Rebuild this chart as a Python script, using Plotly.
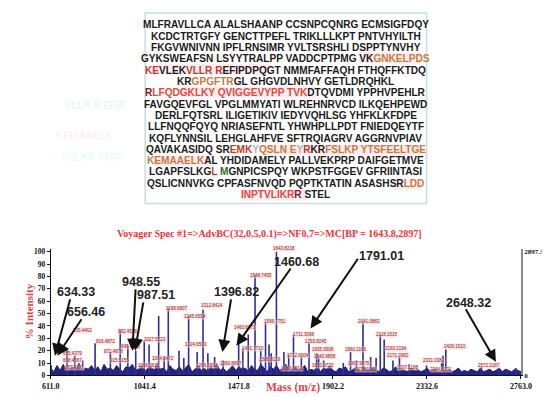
import plotly.graph_objects as go

W, H = 550, 397

# ---------------- data ----------------
seq_lines = [
    [("MLFRAVLLCA ALALSHAANP CCSNPCQNRG ECMSIGFDQY", "k")],
    [("KCDCTRTGFY GENCTTPEFL TRIKLLLKPT PNTVHYILTH", "k")],
    [("FKGVWNIVNN IPFLRNSIMR YVLTSRSHLI DSPPTYNVHY", "k")],
    [("GYKSWEAFSN LSYYTRALPP VADDCPTPMG VK", "k"), ("GNKELPDS", "o")],
    [("KE", "r"), ("VLEK", "k"), ("VLLR", "r"), (" ", "k"), ("R", "r"),
     ("EFIPDPQGT NMMFAFFAQH FTHQFFKTDQ", "k")],
    [("KR", "k"), ("GPGFTR", "o"), ("GL GHGVDLNHVY GETLDRQHKL", "k")],
    [("R", "d"), ("LFQDGKLKY QVIGGEVYPP TVK", "p"), ("DTQVDMI YPPHVPEHLR", "k")],
    [("FAVGQEVFGL VPGLMMYATI WLREHNRVCD ILKQEHPEWD", "k")],
    [("DERLFQTSRL ILIGETIKIV IEDYVQHLSG YHFKLKFDPE", "k")],
    [("LLFNQQFQYQ NRIASEFNTL YHWHPLLPDT FNIEDQEYTF", "k")],
    [("KQFLYNNSIL LEHGLAHFVE SFTRQIAGRV AGGRNVPIAV", "k")],
    [("QAVAKASIDQ SR", "k"), ("EMK", "r"), ("Y", "g"), ("QSLN", "o"), (" ", "k"),
     ("E", "o"), ("Y", "g"), ("R", "r"), ("KR", "k"), ("FSLKP YTSFEELTGE", "o")],
    [("KEMAAELK", "o"), ("AL YHDIDAMELY PALLVEKPRP DAIFGETMVE", "k")],
    [("LGAPFSLKG", "k"), ("L", "r"), (" ", "k"), ("M", "n"),
     ("GNPICSPQY WKPSTFGGEV GFRIINTASI", "k")],
    [("QSLICNNVKG CPFASFNVQD PQPTKTATIN ASASHSR", "k"), ("LDD", "o")],
    [("INPTVLIKR", "p"), ("R", "d"), (" STEL", "k")],
]
seq_colors = {"k": "#1b1b1b", "r": "#c43a2a", "o": "#c67a3c", "g": "#a9b8c0",
              "d": "#7a1e1e", "p": "#dc4a3e", "n": "#2f6a2f"}

spec_title = "Voyager Spec #1=>AdvBC(32,0.5,0.1)=>NF0.7=>MC[BP = 1643.8,2897]"

peak_mz = [613, 686, 721, 757, 814, 884, 929, 964, 1000, 1039, 1061, 1105, 1130, 1149,
           1198, 1220, 1242, 1281, 1308, 1330, 1361, 1400, 1471, 1490, 1515, 1546, 1572,
           1594, 1610, 1620, 1643.8, 1678, 1700, 1722, 1758, 1793, 1828, 1837, 1860,
           1950, 1983, 2010, 2040, 2075, 2100, 2119, 2137, 2177, 2207, 2250, 2331,
           2400, 2406, 2419, 2582, 2660, 2700, 2740]
peak_int = [8, 21, 16, 12, 26, 19, 37, 24, 20, 28, 25, 48, 15, 55,
            20, 14, 48, 19, 53, 18, 15, 12, 29, 22, 33, 81, 20,
            43, 25, 18, 100, 19, 17, 33, 15, 27, 18, 15, 12,
            10, 19, 12, 43, 15, 14, 33, 29, 12, 15, 9, 8,
            10, 16, 21, 7, 6, 5, 6]

noise_start, noise_step = 611.0, 14.35
noise_int = [6, 3, 8, 4, 9, 3, 5, 7, 4, 10, 3, 6, 5, 8, 4, 7, 3, 9, 5, 6,
             4, 8, 5, 3, 7, 6, 9, 4, 5, 8, 3, 6, 7, 4, 10, 5, 6, 3, 8, 5, 4,
             7, 4, 6, 9, 3, 5, 8, 4, 6, 3, 7, 5, 9, 4, 6, 3, 5, 8, 4, 7, 5,
             6, 3, 8, 5, 4, 9, 6, 3, 7, 5, 8, 4, 6, 9, 3, 5, 7, 4, 6, 8, 3,
             5, 4, 7, 3, 6, 5, 8, 4, 3, 6, 5, 7, 3, 4, 6, 5, 3, 7, 4, 5, 6,
             4, 3, 6, 5, 3, 4, 7, 3, 5, 4, 3, 6, 4, 5, 3, 4, 6, 3, 5, 4, 3,
             4, 3, 5, 3, 4, 6, 3, 4, 3, 5, 4, 3, 6, 3, 4, 5, 3, 4, 6, 3, 5, 4, 3, 5, 4, 3]

peak_label_text = ["1643.8218", "1548.7455", "1596.7751", "1460.6873", "1198.6807",
                   "1245.6554", "1312.8424", "1027.5523", "932.4538", "816.4872",
                   "726.4462", "872.4878", "1711.3098", "1793.8245", "1835.9908",
                   "1840.9858", "1960.1166", "2041.0883", "2118.1515", "2160.2194",
                   "2171.0982", "2426.1510", "2572.2187", "655.4379", "668.4567",
                   "687.4377", "945.4628", "915.5155", "1066.5612", "1094.5472",
                   "1324.6593", "1296.6904", "1390.8897", "1491.7710", "1588.8119",
                   "1689.9012", "1712.6604", "1850.9723", "1967.9875", "2035.1002",
                   "2207.1188", "2331.0382", "2344.8271"]
peak_label_px = [(277, 243), (253, 270), (268, 317), (237, 323), (165, 304),
                 (185, 312), (202, 301), (143, 335), (115, 327), (92, 337),
                 (68, 326), (100, 348), (297, 330), (310, 337), (318, 346),
                 (320, 353), (351, 346), (365, 317), (383, 330), (393, 345),
                 (395, 352), (455, 343), (490, 362), (58, 350), (58, 357),
                 (60, 364), (118, 343), (106, 357), (137, 362), (152, 355),
                 (186, 340), (197, 362), (222, 360), (245, 345), (262, 356),
                 (285, 365), (292, 352), (318, 362), (355, 360), (362, 366),
                 (405, 364), (433, 357), (440, 366)]

callout_text = ["634.33", "656.46", "948.55", "987.51", "1396.82", "1460.68", "1791.01", "2648.32"]
callout_text_px = [(61, 287), (72, 307), (129, 277), (144, 290), (228, 287), (290, 257), (378, 250), (469, 298)]
callout_tail_px = [(55, 294), (67, 314), (123, 284), (131, 297), (222, 294), (283, 263), (353, 253), (466, 304)]
callout_head_mz = [630, 641, 985, 997, 1396.82, 1460.68, 1800, 2648.32]
callout_head_int = [16, 16, 20, 20, 19, 24, 38, 11]

xtick_vals = [611.0, 1041.4, 1471.8, 1902.2, 2332.6, 2763.0]
xtick_text = ["611.0", "1041.4", "1471.8", "1902.2", "2332.6", "2763.0"]
ytick_vals = [0, 10, 20, 30, 40, 50, 60, 70, 80, 90, 100]
bp_intensity = 2897.3

# ---------------- geometry ----------------
X0PX, X1PX = 35, 523
Y0PX, YTOPPX = 372, 243.5
XMIN, XMAX = 611.0, 2763.0
YMAX = 102.0


def px(x, y):
    return x / W, 1 - y / H


def data_to_px(mz, inten):
    return (X0PX + (mz - XMIN) / (XMAX - XMIN) * (X1PX - X0PX),
            Y0PX - inten / YMAX * (Y0PX - YTOPPX))


fig = go.Figure()

# baseline noise band
noise_mz = [noise_start + i * noise_step for i in range(len(noise_int))]
fig.add_trace(go.Scatter(x=noise_mz, y=noise_int, mode="lines", fill="tozeroy",
                         line=dict(color="#1d1d78", width=1), fillcolor="#24247f",
                         hoverinfo="skip", showlegend=False))

# peaks as sticks
sx, sy = [], []
for m, v in zip(peak_mz, peak_int):
    sx += [m, m, None]
    sy += [0, v, None]
fig.add_trace(go.Scatter(x=sx, y=sy, mode="lines", line=dict(color="#2e2e96", width=1.6),
                         hoverinfo="skip", showlegend=False))

# invisible trace on right axis
fig.add_trace(go.Scatter(x=[XMIN], y=[0], yaxis="y2", mode="markers",
                         marker=dict(opacity=0), showlegend=False, hoverinfo="skip"))

serif = "Liberation Serif, Times New Roman, serif"
sans = "Liberation Sans, Arial, sans-serif"

fig.update_layout(
    width=W, height=H, margin=dict(l=0, r=0, t=0, b=0),
    paper_bgcolor="white", plot_bgcolor="white", showlegend=False,
    xaxis=dict(domain=[X0PX / W, X1PX / W], range=[XMIN, XMAX], tickvals=xtick_vals,
               ticktext=xtick_text, showgrid=False, zeroline=False, showline=True,
               linecolor="#111", linewidth=1, ticks="outside", ticklen=3, tickcolor="#111",
               tickfont=dict(family=serif, size=8, color="#111", weight="bold")),
    yaxis=dict(domain=[(H - Y0PX) / H, (H - YTOPPX) / H], range=[0, YMAX], tickvals=ytick_vals,
               showgrid=False, zeroline=False, showline=True, linecolor="#111", linewidth=1,
               ticks="outside", ticklen=3, tickcolor="#111",
               tickfont=dict(family=serif, size=7.5, color="#111", weight="bold")),
    yaxis2=dict(overlaying="y", side="right", range=[0, bp_intensity * YMAX / 100],
                tickvals=[0, bp_intensity], ticktext=["0", "2897.3"], showgrid=False,
                zeroline=False, showline=True, linecolor="#8a8a8a", linewidth=1.5, ticks="",
                tickfont=dict(family=serif, size=7, color="#111", weight="bold")),
)

shapes = []
bx0, by0 = px(133, 197)
bx1, by1 = px(425, 3)
# pink highlight regions behind coloured peptides
for (a, b, c, d) in [(355, 43, 420, 54), (140, 55, 262, 66), (168, 78, 310, 89),
                     (255, 137, 420, 148), (141, 148, 205, 159), (390, 172, 420, 183),
                     (232, 183, 300, 194)]:
    xa, ya = px(a, d)
    xb, yb = px(c, b)
    shapes.append(dict(type="rect", xref="paper", yref="paper", x0=xa, y0=ya, x1=xb, y1=yb,
                       line=dict(width=0), fillcolor="rgba(250,212,220,0.45)", layer="below"))
shapes.append(dict(type="rect", xref="paper", yref="paper", x0=bx0, y0=by0, x1=bx1, y1=by1,
                   line=dict(color="#c6dde2", width=1.5), fillcolor="rgba(0,0,0,0)"))
fig.update_layout(shapes=shapes)

ann = []


def add_text(tx, ty, text, font, **kw):
    x, y = px(tx, ty)
    d = dict(x=x, y=y, xref="paper", yref="paper", text=text, showarrow=False,
             xanchor="center", yanchor="middle", font=font)
    d.update(kw)
    ann.append(d)


# sequence lines
for i, segs in enumerate(seq_lines):
    txt = "".join(f"<span style='color:{seq_colors[c]}'>{s}</span>" for s, c in segs)
    add_text(279, 15 + i * 11.53, txt, dict(family=sans, size=10.1, weight="bold"))

# faint ghost text left of the box
for t, (gx, gy), col in [("VLLR R EFIP", (80, 97), "rgba(0,210,230,0.13)"),
                          ("KEMAAELK", (70, 128), "rgba(240,80,200,0.11)"),
                          ("FSLKP YTSF", (78, 150), "rgba(0,210,230,0.11)")]:
    add_text(gx, gy, t, dict(family=sans, size=10, color=col, weight="bold"))

# spectrum title
add_text(262, 228, spec_title, dict(family=serif, size=10, color="#e0393b", weight="bold"))
# axis titles
add_text(12, 307, "% Intensity", dict(family=serif, size=11, color="#d9444a", weight="bold"),
         textangle=-90)
add_text(286, 384, "Mass (m/z)", dict(family=serif, size=11.5, color="#d9444a", weight="bold"))

# small peak labels
for t, (lx, ly) in zip(peak_label_text, peak_label_px):
    add_text(lx, ly, t, dict(family=sans, size=4.5, color="#8e1c1c"),
             bgcolor="rgba(252,205,205,0.55)", borderpad=0)

# callout arrows
for hm, hi, (tx, ty) in zip(callout_head_mz, callout_head_int, callout_tail_px):
    hx, hy = data_to_px(hm, hi)
    ann.append(dict(x=hm, y=hi, xref="x", yref="y", text="", showarrow=True,
                    ax=tx - hx, ay=ty - hy, arrowhead=2, arrowsize=1.2, arrowwidth=2,
                    arrowcolor="#111"))
# callout texts
for t, (tx, ty) in zip(callout_text, callout_text_px):
    add_text(tx, ty, t, dict(family=sans, size=12.5, color="#222", weight="bold"))

fig.update_layout(annotations=ann)
fig.write_html("out.html")
